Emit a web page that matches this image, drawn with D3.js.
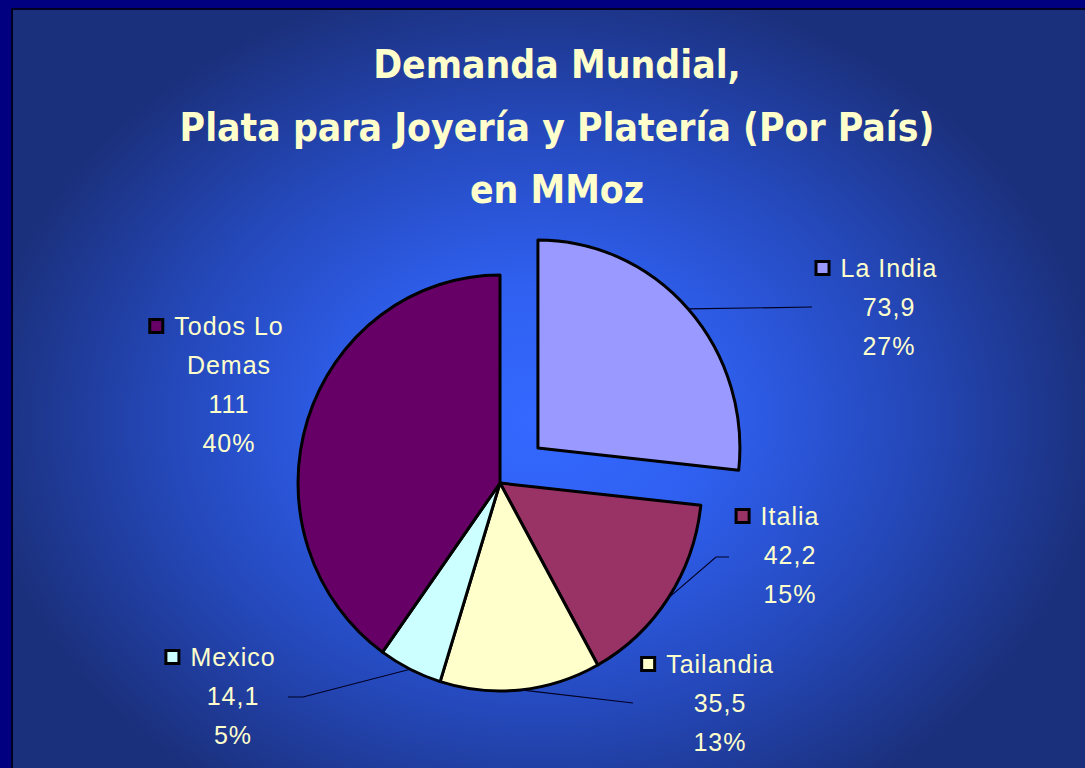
<!DOCTYPE html>
<html lang="es">
<head>
  <meta charset="UTF-8">
  <title>Demanda Mundial</title>
  <style>
    html, body { margin: 0; padding: 0; background: #000080; }
    svg { display: block; }
    .titulo text { font-family: "DejaVu Sans Condensed", "DejaVu Sans", sans-serif; font-weight: bold; fill: #FFFFCC; }
    .etiqueta text { font-family: "Liberation Sans", Arial, sans-serif; font-size: 25px; fill: #FFFFCC; letter-spacing: 1px; }
  </style>
</head>
<body>
  <script src="https://cdn.jsdelivr.net/npm/d3@7"></script>
  <script>
    // datos
    var categories = ["La India", "Italia", "Tailandia", "Mexico", "Todos Lo Demas"];
    var values = [73.9, 42.2, 35.5, 14.1, 111];
    var colors = ["#9999FF", "#993366", "#FFFFCC", "#CCFFFF", "#660066"];
    var titleLines = ["Demanda Mundial,", "Plata para Joyería y Platería (Por País)", "en MMoz"];

    var width = 1085, height = 768;
    var cx = 500, cy = 483, R = 208, sx = 0.971;
    var explode = [52.5, 0, 0, 0, 0];
    // posicion de cada etiqueta (centro del texto, linea base de la primera linea)
    var labelPos = [[889, 277], [790, 525], [720, 673], [233, 666], [229, 335]];
    // puntos de las lineas guia
    var leaders = [[[812, 307]], [[716, 557], [729, 557]], [[633, 703]], [[303, 697], [288, 697]], null];

    var svg = d3.select("body").append("svg").attr("width", width).attr("height", height);

    var defs = svg.append("defs");
    var grad = defs.append("radialGradient").attr("id", "fondo")
      .attr("gradientUnits", "userSpaceOnUse")
      .attr("cx", 540).attr("cy", 420).attr("r", 560)
      .attr("gradientTransform", "translate(540,420) scale(1,0.8) translate(-540,-420)");
    grad.append("stop").attr("offset", "0%").attr("stop-color", "#3468FF");
    grad.append("stop").attr("offset", "30%").attr("stop-color", "#2F60F0");
    grad.append("stop").attr("offset", "65%").attr("stop-color", "#2549BC");
    grad.append("stop").attr("offset", "100%").attr("stop-color", "#1B307C");

    // marco
    svg.append("rect").attr("width", width).attr("height", height).attr("fill", "#000080");
    svg.append("rect").attr("x", 13).attr("y", 10).attr("width", width - 13).attr("height", height - 10).attr("fill", "url(#fondo)");
    svg.append("path").attr("d", "M12," + height + "V9H" + width).attr("fill", "none").attr("stroke", "#000").attr("stroke-width", 1.5);

    // titulo
    var tg = svg.append("g").attr("class", "titulo");
    var probe = tg.append("text").attr("font-size", 100).text(titleLines[1]);
    var fs = 100 * 755 / probe.node().getComputedTextLength();
    probe.remove();
    tg.selectAll("text").data(titleLines).enter().append("text")
      .attr("x", 557).attr("y", function (d, i) { return 78 + i * 62.5; })
      .attr("text-anchor", "middle").attr("font-size", fs)
      .text(function (d) { return d; });

    // pastel
    var pie = d3.pie().sort(null).value(function (d) { return d; });
    var arcs = pie(values);
    var arc = d3.arc().innerRadius(0).outerRadius(R);
    function mid(d) { return (d.startAngle + d.endAngle) / 2; }

    var pg = svg.append("g").attr("transform", "translate(" + cx + "," + cy + ") scale(" + sx + ",1)");
    pg.selectAll("path").data(arcs).enter().append("path")
      .attr("d", arc)
      .attr("transform", function (d, i) {
        var a = mid(d);
        return "translate(" + (explode[i] * Math.sin(a)) + "," + (-explode[i] * Math.cos(a)) + ")";
      })
      .attr("fill", function (d, i) { return colors[i]; })
      .attr("stroke", "#000").attr("stroke-width", 3).attr("stroke-linejoin", "round")
      .attr("vector-effect", "non-scaling-stroke");

    // lineas guia
    var line = d3.line();
    arcs.forEach(function (d, i) {
      if (!leaders[i]) return;
      var a = mid(d), r = R + explode[i];
      var p0 = [cx + sx * r * Math.sin(a), cy - r * Math.cos(a)];
      svg.append("path").attr("d", line([p0].concat(leaders[i])))
        .attr("fill", "none").attr("stroke", "#000022").attr("stroke-width", 1.2);
    });

    // etiquetas
    var total = d3.sum(values);
    var fmtPct = d3.format(".0%");
    function fmtNum(v) { return String(v).replace(".", ","); }

    var lg = svg.append("g").attr("class", "etiqueta");
    function wrap(name) {
      var words = name.split(" "), lines = [], cur = "";
      var t = lg.append("text");
      words.forEach(function (w) {
        var test = cur ? cur + " " + w : w;
        t.text(test);
        if (cur && t.node().getComputedTextLength() > 140) { lines.push(cur); cur = w; }
        else cur = test;
      });
      lines.push(cur);
      t.remove();
      return lines;
    }

    arcs.forEach(function (d, i) {
      var lines = wrap(categories[i]).concat([fmtNum(values[i]), fmtPct(values[i] / total)]);
      var x = labelPos[i][0], y = labelPos[i][1];
      var texts = lg.selectAll(null).data(lines).enter().append("text")
        .attr("x", x).attr("y", function (l, j) { return y + j * 39; })
        .attr("text-anchor", "middle")
        .text(function (l) { return l; });
      var w = texts.node().getComputedTextLength();
      lg.append("rect")
        .attr("x", x - w / 2 - 10 - 14.5).attr("y", y - 15.5)
        .attr("width", 13).attr("height", 13)
        .attr("fill", colors[i]).attr("stroke", "#000").attr("stroke-width", 3);
    });
  </script>
</body>
</html>
